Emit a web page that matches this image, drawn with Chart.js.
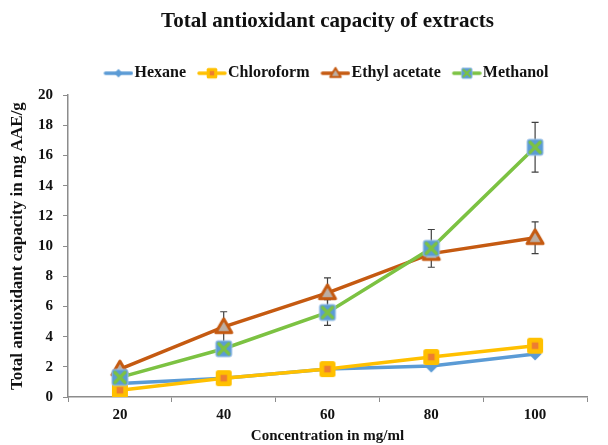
<!DOCTYPE html>
<html><head><meta charset="utf-8">
<script src="https://cdn.jsdelivr.net/npm/chart.js@4/dist/chart.umd.min.js"></script>
<style>html,body{margin:0;padding:0;background:#fff}#wrap{width:608px;height:445px}</style>
</head><body><div id="wrap"><canvas id="c" width="608" height="445"></canvas></div>
<script>
// Concentrations (mg/ml) and total antioxidant capacity (mg AAE/g)
const concentrations = ['20', '40', '60', '80', '100'];
const hexane = [0.9, 1.25, 1.85, 2.05, 2.85];
const chloroform = [0.45, 1.25, 1.85, 2.65, 3.4];
const ethylAcetate = [1.85, 4.65, 6.9, 9.5, 10.55];
const methanol = [1.3, 3.2, 5.6, 9.85, 16.55];
// Standard deviations (0 = no bar shown)
const hexaneErr = [0, 0, 0.2, 0, 0];
const chloroformErr = [0, 0, 0, 0, 0];
const ethylAcetateErr = [0, 1.0, 1.0, 0, 1.05];
const methanolErr = [0, 0, 0.85, 1.25, 1.65];
const yTicks = [0, 2, 4, 6, 8, 10, 12, 14, 16, 18, 20];

const SERIF = '"Liberation Serif", "Times New Roman", serif';
const C = { blue: '#5B9BD5', yellow: '#FFC000', orange: '#ED7D31', brown: '#C55A11', green: '#7CC242' };

function roundRect(ctx, x, y, w, h, r) {
  ctx.beginPath();
  ctx.moveTo(x + r, y); ctx.lineTo(x + w - r, y); ctx.quadraticCurveTo(x + w, y, x + w, y + r);
  ctx.lineTo(x + w, y + h - r); ctx.quadraticCurveTo(x + w, y + h, x + w - r, y + h);
  ctx.lineTo(x + r, y + h); ctx.quadraticCurveTo(x, y + h, x, y + h - r);
  ctx.lineTo(x, y + r); ctx.quadraticCurveTo(x, y, x + r, y); ctx.closePath();
}

function drawMarker(ctx, kind, cx, cy, s) {
  ctx.save();
  if (kind === 'diamond') {
    const r = 6.5 * s;
    ctx.fillStyle = C.blue;
    ctx.beginPath(); ctx.moveTo(cx, cy - r); ctx.lineTo(cx + r, cy); ctx.lineTo(cx, cy + r); ctx.lineTo(cx - r, cy); ctx.closePath(); ctx.fill();
  } else if (kind === 'square') {
    const h = 8 * s;
    ctx.fillStyle = C.yellow; roundRect(ctx, cx - h, cy - h, 2 * h, 2 * h, 2.5 * s); ctx.fill();
    const i = 3.3 * s;
    ctx.fillStyle = C.orange; ctx.fillRect(cx - i, cy - i, 2 * i, 2 * i);
  } else if (kind === 'triangle') {
    const r = 8 * s;
    ctx.fillStyle = '#BCAEA3'; ctx.strokeStyle = C.brown; ctx.lineWidth = 3 * s; ctx.lineJoin = 'round';
    ctx.beginPath(); ctx.moveTo(cx, cy - r); ctx.lineTo(cx + r, cy + r * 0.72); ctx.lineTo(cx - r, cy + r * 0.72); ctx.closePath();
    ctx.fill(); ctx.stroke();
  } else if (kind === 'cross') {
    const h = 8 * s;
    ctx.fillStyle = C.blue; roundRect(ctx, cx - h, cy - h, 2 * h, 2 * h, 2 * s); ctx.fill();
    ctx.strokeStyle = '#9DC3E6'; ctx.lineWidth = 1 * s; ctx.stroke();
    const k = 5 * s;
    ctx.strokeStyle = C.green; ctx.lineWidth = 3.2 * s; ctx.lineCap = 'round';
    ctx.beginPath(); ctx.moveTo(cx - k, cy - k); ctx.lineTo(cx + k, cy + k); ctx.moveTo(cx + k, cy - k); ctx.lineTo(cx - k, cy + k); ctx.stroke();
  }
  ctx.restore();
}

function markerCanvas(kind) {
  const cv = document.createElement('canvas'); cv.width = 22; cv.height = 22;
  drawMarker(cv.getContext('2d'), kind, 11, 11, 1);
  return cv;
}
// Legend key: a short line with the marker on it
function legendCanvas(kind, color) {
  const cv = document.createElement('canvas'); cv.width = 34; cv.height = 14;
  const g = cv.getContext('2d');
  g.strokeStyle = color; g.lineWidth = 3.5; g.lineCap = 'round';
  g.beginPath(); g.moveTo(6, 7); g.lineTo(32, 7); g.stroke();
  drawMarker(g, kind, 19, 7, 0.66);
  return cv;
}

const series = [
  { label: 'Hexane', data: hexane, errors: hexaneErr, color: C.blue, kind: 'diamond', order: 4 },
  { label: 'Chloroform', data: chloroform, errors: chloroformErr, color: C.yellow, kind: 'square', order: 2 },
  { label: 'Ethyl acetate', data: ethylAcetate, errors: ethylAcetateErr, color: C.brown, kind: 'triangle', order: 3 },
  { label: 'Methanol', data: methanol, errors: methanolErr, color: C.green, kind: 'cross', order: 1 }
];

const errorBars = {
  id: 'errorBars',
  beforeDatasetsDraw(chart) {
    const { ctx, scales: { x, y } } = chart;
    ctx.save(); ctx.strokeStyle = '#404040'; ctx.lineWidth = 1.2;
    chart.data.datasets.forEach(ds => {
      ds.errors.forEach((e, j) => {
        if (!e) return;
        const px = x.getPixelForValue(j);
        const top = y.getPixelForValue(ds.data[j] + e), bot = y.getPixelForValue(ds.data[j] - e);
        ctx.beginPath();
        ctx.moveTo(px, top); ctx.lineTo(px, bot);
        ctx.moveTo(px - 3.5, top); ctx.lineTo(px + 3.5, top);
        ctx.moveTo(px - 3.5, bot); ctx.lineTo(px + 3.5, bot);
        ctx.stroke();
      });
    });
    ctx.restore();
  }
};

new Chart(document.getElementById('c'), {
  type: 'line',
  data: {
    labels: concentrations,
    datasets: series.map(s => ({
      label: s.label, data: s.data, errors: s.errors, order: s.order,
      borderColor: s.color, backgroundColor: s.color, borderWidth: 3.5, tension: 0,
      pointStyle: markerCanvas(s.kind), legendImg: legendCanvas(s.kind, s.color),
      pointRadius: 8, pointHoverRadius: 8
    }))
  },
  options: {
    responsive: false, animation: false, devicePixelRatio: 1,
    layout: { padding: { left: 0, right: 21, top: 2, bottom: 0 } },
    plugins: {
      tooltip: { enabled: false },
      title: {
        display: true, fullSize: false, text: 'Total antioxidant capacity of extracts', color: '#111',
        font: { family: SERIF, size: 21, weight: 'bold' }, padding: { top: 7, bottom: 17 }
      },
      legend: {
        display: true, fullSize: false,
        labels: {
          usePointStyle: true, pointStyleWidth: 20, padding: 14, color: '#111',
          font: { family: SERIF, size: 16, weight: 'bold' },
          generateLabels(chart) {
            return chart.data.datasets.map((ds, i) => ({
              text: ds.label, datasetIndex: i, pointStyle: ds.legendImg,
              fillStyle: ds.borderColor, strokeStyle: ds.borderColor, lineWidth: 0, hidden: false, fontColor: '#111'
            }));
          }
        }
      }
    },
    scales: {
      x: {
        offset: true,
        grid: { display: true, offset: true, drawOnChartArea: false, drawTicks: true, tickLength: 5, color: '#8C8C8C' },
        border: { display: true, color: '#8C8C8C', width: 1.5 },
        ticks: { color: '#111', font: { family: SERIF, size: 15, weight: 'bold' }, padding: 4 },
        title: { display: true, text: 'Concentration in mg/ml', color: '#111', font: { family: SERIF, size: 15, weight: 'bold' }, padding: { top: 6, bottom: 0 } },
        afterFit(scale) { scale.height = 48; }
      },
      // empty strip between the legend and the plot
      gap: {
        type: 'category', position: 'top', labels: [''],
        grid: { display: false }, border: { display: false }, ticks: { display: false },
        afterFit(scale) { scale.height = 4; }
      },
      y: {
        min: 0, max: 20,
        afterBuildTicks(scale) { scale.ticks = yTicks.map(v => ({ value: v })); },
        grid: { display: true, drawOnChartArea: false, drawTicks: true, tickLength: 5, color: '#8C8C8C' },
        border: { display: true, color: '#8C8C8C', width: 1.5 },
        ticks: { color: '#111', font: { family: SERIF, size: 15, weight: 'bold' }, padding: 10 },
        title: { display: true, text: 'Total antioxidant capacity in mg AAE/g', color: '#111', font: { family: SERIF, size: 17, weight: 'bold' }, padding: { top: 7, bottom: 0 } },
        afterFit(scale) { scale.width = 68; }
      }
    }
  },
  plugins: [errorBars]
});
</script></body></html>
